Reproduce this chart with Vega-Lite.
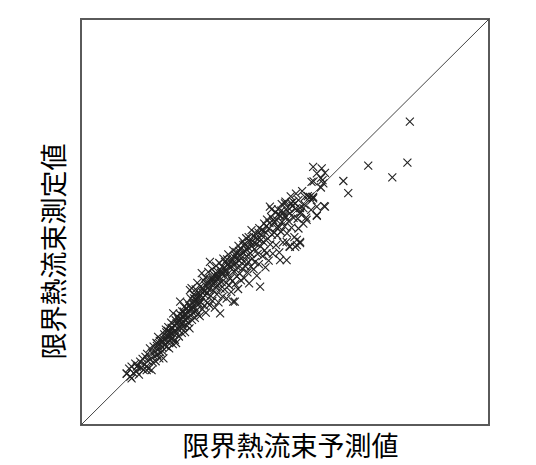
{
  "$schema": "https://vega.github.io/schema/vega-lite/v6.json",
  "width": 408,
  "height": 406,
  "autosize": "none",
  "padding": {"left": 81, "top": 19, "right": 47, "bottom": 40},
  "background": "white",
  "config": {
    "view": {"stroke": "#5a5a5a", "strokeWidth": 2},
    "axis": {"labels": false, "ticks": false, "domain": false, "grid": false,
             "titleFont": "Noto Sans CJK JP", "titleFontSize": 27, "titleFontWeight": "normal", "titleColor": "#000"}
  },
  "datasets": {
    "diag": [{"p": 0, "m": 0}, {"p": 100, "m": 100}],
    "pts": [
      {"p":11.2,"m":12.6},{"p":11.8,"m":13.9},{"p":12.1,"m":11.9},{"p":12.4,"m":14.4},{"p":12.9,"m":12.8},{"p":13.3,"m":15.1},{"p":13.6,"m":13.2},{"p":13.9,"m":14.6},{"p":14.2,"m":12.4},{"p":14.5,"m":15.6},
      {"p":14.8,"m":14.1},{"p":15.1,"m":16.3},{"p":15.3,"m":13.6},{"p":15.6,"m":15.0},{"p":15.8,"m":16.8},{"p":16.0,"m":14.4},{"p":16.2,"m":17.5},{"p":16.4,"m":15.8},{"p":16.6,"m":13.9},{"p":16.9,"m":18.9},
      {"p":17.0,"m":16.2},{"p":17.3,"m":13.5},{"p":17.4,"m":17.8},{"p":17.6,"m":15.4},{"p":17.8,"m":19.3},{"p":18.0,"m":16.9},{"p":18.2,"m":18.1},{"p":18.3,"m":15.7},{"p":18.5,"m":20.2},{"p":18.7,"m":17.3},
      {"p":18.9,"m":21.7},{"p":19.0,"m":18.6},{"p":19.2,"m":16.4},{"p":19.4,"m":19.9},{"p":19.5,"m":17.8},{"p":19.7,"m":21.0},{"p":19.9,"m":19.1},{"p":20.0,"m":18.2},{"p":20.2,"m":16.4},{"p":20.1,"m":20.6},
      {"p":11.2,"m":12.7},{"p":12.4,"m":11.5},{"p":13.7,"m":14.4},{"p":16.1,"m":13.5},
      {"p":20.4,"m":22.3},{"p":20.5,"m":19.6},{"p":20.7,"m":21.4},{"p":20.8,"m":23.5},{"p":21.0,"m":19.3},{"p":21.1,"m":22.0},{"p":21.2,"m":20.5},{"p":21.4,"m":24.1},{"p":21.5,"m":21.7},{"p":21.6,"m":18.9},
      {"p":21.8,"m":23.0},{"p":21.9,"m":20.8},{"p":22.0,"m":22.6},{"p":22.1,"m":25.2},{"p":22.3,"m":21.3},{"p":22.4,"m":23.8},{"p":22.5,"m":19.9},{"p":22.6,"m":27.5},{"p":22.7,"m":22.4},{"p":22.9,"m":24.6},
      {"p":23.0,"m":21.0},{"p":23.1,"m":23.3},{"p":23.2,"m":25.8},{"p":23.3,"m":20.2},
      {"p":23.5,"m":22.5},{"p":23.6,"m":24.9},{"p":23.7,"m":26.7},{"p":23.8,"m":23.6},{"p":24.0,"m":21.8},{"p":24.1,"m":25.5},{"p":24.2,"m":27.4},{"p":24.3,"m":30.4},{"p":24.4,"m":23.9},{"p":24.5,"m":26.1},
      {"p":24.7,"m":22.7},{"p":24.8,"m":28.0},{"p":24.9,"m":25.0},{"p":25.0,"m":26.9},{"p":25.1,"m":24.2},{"p":25.3,"m":29.1},{"p":25.4,"m":27.3},{"p":25.5,"m":22.9},{"p":25.6,"m":25.8},{"p":25.8,"m":28.6},
      {"p":25.9,"m":26.4},{"p":26.0,"m":24.5},{"p":26.1,"m":30.1},{"p":26.2,"m":27.7},{"p":26.3,"m":25.3},{"p":26.5,"m":29.4},{"p":26.6,"m":23.8},{"p":26.7,"m":33.2},{"p":26.8,"m":27.0},{"p":26.9,"m":31.2},
      {"p":27.0,"m":28.4},{"p":27.1,"m":33.7},{"p":27.2,"m":25.9},
      {"p":27.4,"m":30.0},{"p":27.5,"m":27.6},{"p":27.6,"m":32.1},{"p":27.8,"m":29.1},{"p":27.9,"m":26.4},{"p":28.0,"m":31.0},{"p":28.1,"m":33.4},{"p":28.3,"m":28.2},{"p":28.4,"m":30.7},{"p":28.5,"m":35.0},
      {"p":28.6,"m":27.3},{"p":28.8,"m":32.6},{"p":28.9,"m":29.8},{"p":29.0,"m":31.7},{"p":29.1,"m":26.8},{"p":29.3,"m":34.1},{"p":29.4,"m":30.2},{"p":29.5,"m":32.9},{"p":29.6,"m":37.4},{"p":29.7,"m":28.5},
      {"p":29.9,"m":31.3},{"p":30.0,"m":35.6},{"p":30.1,"m":33.0},{"p":30.2,"m":29.4},{"p":30.4,"m":31.9},{"p":30.5,"m":36.3},{"p":30.6,"m":27.7},{"p":30.7,"m":34.2},{"p":30.9,"m":32.4},{"p":31.0,"m":30.1},
      {"p":31.1,"m":35.1},{"p":31.2,"m":37.7},{"p":31.4,"m":33.3},{"p":31.5,"m":29.5},{"p":31.6,"m":40.2},{"p":31.7,"m":36.0},{"p":31.8,"m":31.8},{"p":32.0,"m":34.6},{"p":32.1,"m":38.4},{"p":32.2,"m":30.6},
      {"p":32.4,"m":35.7},{"p":32.5,"m":33.1},{"p":32.6,"m":37.0},{"p":32.8,"m":28.9},{"p":32.9,"m":36.6},{"p":33.0,"m":34.0},{"p":33.1,"m":39.2},{"p":33.3,"m":32.2},{"p":33.4,"m":35.9},{"p":33.5,"m":37.8},
      {"p":33.7,"m":30.2},{"p":33.8,"m":34.8},{"p":33.9,"m":39.9},{"p":34.0,"m":36.4},{"p":34.1,"m":27.5},{"p":34.2,"m":33.6},{"p":34.4,"m":38.0},{"p":34.5,"m":35.2},{"p":34.7,"m":31.6},{"p":34.8,"m":37.3},{"p":34.9,"m":41.0},
      {"p":35.1,"m":36.8},{"p":35.2,"m":33.4},{"p":35.3,"m":40.2},{"p":35.5,"m":38.3},{"p":35.6,"m":35.0},{"p":35.7,"m":31.1},{"p":35.9,"m":39.5},{"p":36.0,"m":37.2},{"p":36.1,"m":42.0},{"p":36.3,"m":34.4},
      {"p":36.4,"m":38.9},{"p":36.6,"m":36.1},{"p":36.7,"m":40.9},{"p":36.8,"m":32.8},{"p":37.0,"m":39.0},{"p":37.1,"m":35.5},{"p":37.3,"m":30.4},{"p":37.3,"m":43.0},{"p":37.5,"m":37.9},{"p":37.6,"m":41.3},
      {"p":37.7,"m":30.4},{"p":37.8,"m":34.7},{"p":38.0,"m":39.9},{"p":38.1,"m":42.6},{"p":38.2,"m":36.6},{"p":38.4,"m":38.8},{"p":38.5,"m":33.5},{"p":38.6,"m":44.1},{"p":38.8,"m":40.4},{"p":38.9,"m":37.3},
      {"p":39.0,"m":42.0},{"p":39.2,"m":35.6},{"p":39.3,"m":41.1},{"p":39.5,"m":38.5},{"p":39.6,"m":45.3},{"p":39.8,"m":44.3},{"p":39.9,"m":40.3},{"p":40.0,"m":36.2},{"p":40.2,"m":42.8},{"p":40.3,"m":39.1},
      {"p":40.5,"m":46.0},{"p":40.6,"m":41.6},{"p":40.8,"m":37.6},{"p":40.9,"m":43.8},{"p":41.0,"m":40.2},{"p":41.2,"m":34.9},{"p":41.3,"m":45.2},{"p":41.5,"m":42.3},{"p":41.6,"m":39.0},{"p":41.8,"m":48.0},
      {"p":41.9,"m":44.0},{"p":42.0,"m":41.0},{"p":42.2,"m":46.5},{"p":42.3,"m":38.4},{"p":42.5,"m":43.3},{"p":42.6,"m":40.1},{"p":42.8,"m":47.2},{"p":43.0,"m":44.6},{"p":43.1,"m":36.8},{"p":43.3,"m":42.1},
      {"p":43.4,"m":45.7},{"p":43.6,"m":39.6},{"p":43.7,"m":48.5},{"p":43.9,"m":34.1},{"p":44.0,"m":44.0},{"p":44.2,"m":46.8},{"p":44.3,"m":48.0},{"p":44.5,"m":41.6},{"p":44.7,"m":45.1},{"p":44.9,"m":49.6},
      {"p":45.0,"m":43.0},{"p":45.2,"m":38.8},{"p":45.3,"m":47.3},{"p":45.5,"m":42.3},{"p":45.6,"m":50.6},{"p":45.8,"m":45.9},{"p":46.0,"m":40.5},{"p":46.1,"m":48.4},{"p":46.3,"m":53.8},{"p":46.4,"m":44.5},
      {"p":46.6,"m":51.2},{"p":46.8,"m":46.9},{"p":47.0,"m":42.2},{"p":47.2,"m":49.9},{"p":47.4,"m":47.4},{"p":47.6,"m":52.4},{"p":47.8,"m":44.3},
      {"p":48.0,"m":50.4},{"p":48.1,"m":46.7},{"p":48.3,"m":53.1},{"p":48.5,"m":48.8},{"p":48.6,"m":42.5},{"p":48.8,"m":51.6},{"p":49.0,"m":47.6},{"p":49.2,"m":54.4},{"p":49.3,"m":50.0},{"p":49.5,"m":45.0},
      {"p":49.7,"m":52.3},{"p":49.9,"m":48.9},{"p":50.1,"m":55.0},{"p":50.2,"m":51.3},{"p":50.4,"m":40.6},{"p":50.5,"m":47.2},{"p":50.7,"m":53.6},{"p":50.9,"m":50.2},{"p":51.1,"m":44.0},{"p":51.2,"m":52.2},
      {"p":51.4,"m":56.3},{"p":51.6,"m":48.6},{"p":51.8,"m":54.0},{"p":52.0,"m":55.0},{"p":52.1,"m":51.0},{"p":52.3,"m":46.3},{"p":52.5,"m":53.2},{"p":52.7,"m":57.0},{"p":52.9,"m":44.3},{"p":53.1,"m":50.8},
      {"p":53.3,"m":55.4},{"p":53.7,"m":44.8},{"p":53.9,"m":52.4},{"p":54.2,"m":57.6},{"p":54.5,"m":49.6},{"p":54.8,"m":54.3},{"p":55.2,"m":51.1},{"p":55.6,"m":56.4},{"p":56.1,"m":56.2},{"p":56.4,"m":53.0},
      {"p":56.9,"m":55.8},{"p":57.0,"m":60.0},{"p":57.8,"m":51.7},{"p":59.8,"m":53.8},
      {"p":80.6,"m":74.7},{"p":80.0,"m":64.6},{"p":70.4,"m":63.9},{"p":76.3,"m":61.0},{"p":64.3,"m":60.1},{"p":65.5,"m":57.1},
      {"p":59.0,"m":63.2},{"p":59.8,"m":62.1},{"p":58.8,"m":60.8},{"p":59.2,"m":60.3},{"p":59.4,"m":59.5},{"p":58.8,"m":58.5},{"p":56.8,"m":56.0},{"p":59.6,"m":53.9},{"p":56.9,"m":56.2},{"p":56.5,"m":55.4},
      {"p":52.5,"m":54.6},{"p":53.7,"m":53.4},{"p":46.7,"m":53.1},{"p":55.3,"m":50.5},{"p":57.8,"m":51.5},{"p":53.3,"m":48.4},{"p":52.9,"m":45.6},{"p":50.4,"m":45.1},{"p":53.7,"m":45.1},{"p":52.5,"m":43.9},
      {"p":56.9,"m":63.6},{"p":57.8,"m":62.0},{"p":56.5,"m":59.9},{"p":54.9,"m":56.2},{"p":54.5,"m":53.4},{"p":57.8,"m":53.8},{"p":51.2,"m":43.9},{"p":48.8,"m":40.6},{"p":50.0,"m":54.6},{"p":53.7,"m":52.1},
      {"p":18.6,"m":19.5},{"p":19.3,"m":20.7},{"p":20.3,"m":21.1},{"p":20.9,"m":22.8},{"p":21.3,"m":23.2},{"p":21.7,"m":22.1},{"p":22.2,"m":23.9},{"p":22.8,"m":23.1},{"p":23.4,"m":25.0},{"p":23.9,"m":26.0},
      {"p":24.6,"m":25.2},{"p":25.2,"m":27.9},{"p":25.7,"m":27.0},{"p":26.4,"m":28.3},{"p":26.9,"m":28.8},{"p":27.3,"m":29.0},{"p":27.7,"m":31.2},{"p":28.2,"m":30.1},{"p":28.7,"m":31.5},{"p":29.2,"m":32.0},
      {"p":29.8,"m":33.8},{"p":30.3,"m":32.9},{"p":30.8,"m":34.9},{"p":31.3,"m":33.9},{"p":31.9,"m":35.4},{"p":32.3,"m":36.1},{"p":32.7,"m":34.9},{"p":33.2,"m":37.2},{"p":33.6,"m":36.5},{"p":34.3,"m":37.5},
      {"p":34.6,"m":39.0},{"p":35.0,"m":38.7},{"p":35.4,"m":37.7},{"p":35.8,"m":40.8},{"p":36.2,"m":39.6},{"p":36.9,"m":40.2},{"p":37.4,"m":39.4},{"p":37.9,"m":41.8},{"p":38.3,"m":40.9},{"p":38.7,"m":42.9},
      {"p":39.1,"m":43.4},{"p":39.7,"m":42.4},{"p":40.1,"m":44.5},{"p":40.7,"m":43.1},{"p":41.1,"m":46.3},{"p":41.7,"m":45.0},{"p":42.4,"m":44.9},{"p":42.9,"m":46.1},{"p":43.5,"m":47.4},{"p":44.1,"m":45.6},
      {"p":44.8,"m":47.9},{"p":45.4,"m":48.9},{"p":46.2,"m":49.7},{"p":47.1,"m":50.5},{"p":47.9,"m":48.6},{"p":48.4,"m":51.9},{"p":49.1,"m":52.8},{"p":49.8,"m":51.4},{"p":50.6,"m":52.7},{"p":51.5,"m":54.7}
    ]
  },
  "layer": [
    {
      "data": {"name": "diag"},
      "mark": {"type": "line", "color": "#444", "strokeWidth": 1},
      "encoding": {
        "x": {"field": "p", "type": "quantitative", "scale": {"domain": [0, 100], "nice": false, "zero": false},
              "axis": {"title": "限界熱流束予測値", "titlePadding": 9, "titleX": 209}},
        "y": {"field": "m", "type": "quantitative", "scale": {"domain": [0, 100], "nice": false, "zero": false},
              "axis": {"title": "限界熱流束測定値", "titlePadding": 12, "titleY": 232}}
      }
    },
    {
      "data": {"name": "pts"},
      "mark": {"type": "point", "shape": "M-1,-1L1,1M-1,1L1,-1", "filled": false, "size": 64, "stroke": "#222", "strokeWidth": 1.1, "opacity": 1},
      "encoding": {
        "x": {"field": "p", "type": "quantitative"},
        "y": {"field": "m", "type": "quantitative"}
      }
    }
  ]
}
